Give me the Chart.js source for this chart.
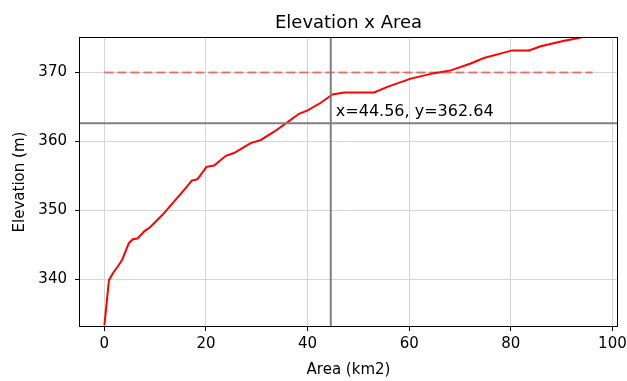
<!DOCTYPE html>
<html>
<head>
<meta charset="utf-8">
<script src="https://cdn.jsdelivr.net/npm/chart.js@4.4.0/dist/chart.umd.min.js"></script>
<style>
  html, body { margin: 0; padding: 0; background: #fff; }
</style>
</head>
<body>
<canvas id="myChart" width="627" height="381"></canvas>
<script>
// area-elevation curve
const area = [0, 0.9, 1.8, 2.6, 3.5, 4.8, 5.6, 6.5, 7.8, 9.1, 11.4, 14.0, 16.0, 17.2, 18.3, 20.1, 21.6, 23.9, 25.5, 28.8, 30.8,
  33.4, 36.0, 38.3, 40.0, 42.6, 44.9, 47.2, 53.1, 55.7, 60.3, 64.9, 68.2, 72.1, 74.7, 80.3, 83.6, 85.9, 90.5, 93.4, 96.1];
const elevation = [333.3, 339.85, 341.0, 341.8, 342.8, 345.2, 345.8, 345.9, 346.9, 347.6, 349.3, 351.5, 353.2, 354.3, 354.5, 356.3, 356.5, 357.9, 358.3, 359.75, 360.2,
  361.4, 362.75, 364.0, 364.5, 365.6, 366.8, 367.1, 367.1, 367.9, 369.1, 369.9, 370.3, 371.3, 372.1, 373.2, 373.2, 373.8, 374.6, 375.0, 375.6];

const xTicks = [0, 20, 40, 60, 80, 100];
const yTicks = [340, 350, 360, 370];
const xRange = [-4.8, 100.9];
const yRange = [333.2, 375];

const refLevel = 370;
const cursorX = 44.56;
const cursorY = 362.64;

const FONT = "'DejaVu Sans', sans-serif";

const curve = area.map((a, i) => ({ x: a, y: elevation[i] }));

const framePlugin = {
  id: "frame",
  afterDatasetsDraw(chart) {
    const { ctx, scales } = chart;
    // cursor label
    ctx.save();
    ctx.font = "16px " + FONT;
    ctx.fillStyle = "#000";
    ctx.textAlign = "left";
    ctx.textBaseline = "alphabetic";
    ctx.fillText("x=" + cursorX.toFixed(2) + ", y=" + cursorY.toFixed(2),
      scales.x.getPixelForValue(cursorX + 1), scales.y.getPixelForValue(cursorY + 1));
    ctx.restore();
  },
  afterDraw(chart) {
    const { ctx, chartArea } = chart;
    ctx.save();
    ctx.strokeStyle = "#000";
    ctx.lineWidth = 1;
    ctx.strokeRect(chartArea.left - 0.5, chartArea.top - 0.5,
      chartArea.right - chartArea.left + 1, chartArea.bottom - chartArea.top + 1);
    ctx.font = "18px " + FONT;
    ctx.fillStyle = "#000";
    ctx.textAlign = "center";
    ctx.textBaseline = "alphabetic";
    ctx.fillText("Elevation x Area", (chartArea.left + chartArea.right) / 2, 28);
    ctx.restore();
  }
};

const tickFont = { family: FONT, size: 15 };

new Chart(document.getElementById("myChart"), {
  type: "line",
  data: {
    datasets: [
      {
        data: [{ x: cursorX, y: yRange[0] }, { x: cursorX, y: yRange[1] }],
        borderColor: "#808080", borderWidth: 2, pointRadius: 0, order: 0
      },
      {
        data: [{ x: xRange[0], y: cursorY }, { x: xRange[1], y: cursorY }],
        borderColor: "#808080", borderWidth: 2, pointRadius: 0, order: 1
      },
      {
        data: curve,
        borderColor: "#ff0000", borderWidth: 2, pointRadius: 0, tension: 0, order: 2
      },
      {
        data: [{ x: area[0], y: refLevel }, { x: area[area.length - 1], y: refLevel }],
        borderColor: "rgba(255,0,0,0.5)", borderWidth: 2, borderDash: [9, 4], pointRadius: 0, order: 3
      }
    ]
  },
  options: {
    responsive: false,
    animation: false,
    devicePixelRatio: 1,
    layout: { padding: { left: 0, right: 10, top: 38, bottom: 0 } },
    plugins: { legend: { display: false }, tooltip: { enabled: false } },
    scales: {
      x: {
        type: "linear",
        min: xRange[0], max: xRange[1],
        afterBuildTicks: s => { s.ticks = xTicks.map(v => ({ value: v })); },
        afterFit: s => { s.height = 55; s.paddingLeft = 0; s.paddingRight = 0; },
        grid: { color: "#d6d6d6", lineWidth: 1, tickColor: "#000", tickLength: 5 },
        border: { display: false },
        ticks: { color: "#000", font: tickFont, padding: 4, maxRotation: 0 },
        title: { display: true, text: "Area (km2)", color: "#000", font: tickFont, padding: { top: 0, bottom: 2 } }
      },
      y: {
        type: "linear",
        min: yRange[0], max: yRange[1],
        afterBuildTicks: s => { s.ticks = yTicks.map(v => ({ value: v })); },
        afterFit: s => { s.width = 80; s.paddingTop = 0; s.paddingBottom = 0; },
        grid: { color: "#d6d6d6", lineWidth: 1, tickColor: "#000", tickLength: 5 },
        border: { display: false },
        ticks: { color: "#000", font: tickFont, padding: 8 },
        title: { display: true, text: "Elevation (m)", color: "#000", font: tickFont, padding: { top: 11, bottom: 0 } }
      }
    }
  },
  plugins: [framePlugin]
});
</script>
</body>
</html>
